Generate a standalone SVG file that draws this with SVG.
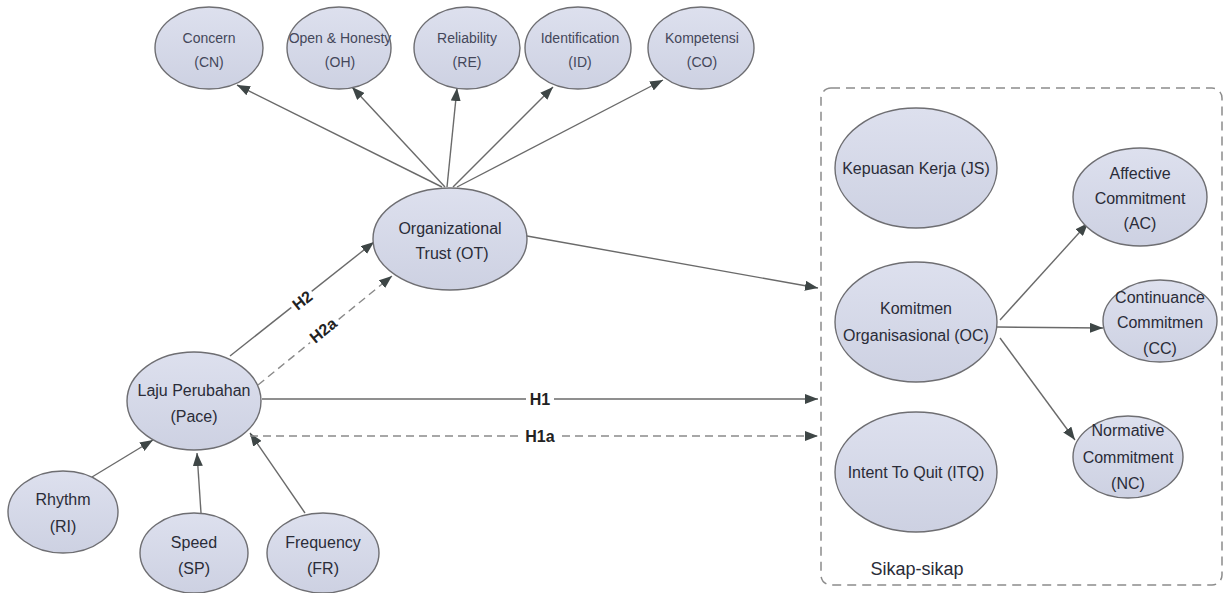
<svg xmlns="http://www.w3.org/2000/svg" width="1224" height="593" viewBox="0 0 1224 593">
<defs>
<linearGradient id="g" x1="0" y1="0" x2="0" y2="1">
<stop offset="0" stop-color="#dde0ee"/>
<stop offset="1" stop-color="#cdd1e2"/>
</linearGradient>
<marker id="ah" markerUnits="userSpaceOnUse" markerWidth="14" markerHeight="10" refX="13" refY="5" orient="auto">
<path d="M0,0 L13,5 L0,10 z" fill="#3e4646"/>
</marker>
<style>
.n ellipse{fill:url(#g);stroke:#6e6e72;stroke-width:1.4}
text{font-family:"Liberation Sans",Arial,sans-serif;fill:#2a2c38;text-anchor:middle}
.s{font-size:14px;fill:#44475a}
.m{font-size:16px}
.c line{stroke:#6a6a6a;stroke-width:1.4;marker-end:url(#ah)}
.c .d{stroke:#8a8a8a;stroke-dasharray:8 5}
.lbl{font-size:16px;font-weight:bold;fill:#222}
</style>
</defs>
<rect width="1224" height="593" fill="#ffffff"/>
<rect id="box" x="821" y="88" width="401" height="497" rx="10" fill="none" stroke="#8c8c8c" stroke-width="1.5" stroke-dasharray="9 6"/>
<text x="917" y="575" style="font-size:18px">Sikap-sikap</text>

<g class="c" id="connectors">
<line x1="442" y1="187" x2="237" y2="85"/>
<line x1="445" y1="187" x2="352" y2="87"/>
<line x1="447" y1="187" x2="457" y2="88"/>
<line x1="453" y1="187" x2="553" y2="87"/>
<line x1="457" y1="187" x2="663" y2="80"/>
<line x1="92" y1="477" x2="153" y2="440"/>
<line x1="201" y1="513" x2="197" y2="453"/>
<line x1="305" y1="513" x2="250" y2="433"/>
<line x1="230" y1="356" x2="374" y2="242"/>
<line class="d" x1="258" y1="385" x2="392" y2="276"/>
<line x1="262" y1="399" x2="818" y2="399"/>
<line class="d" x1="250" y1="436" x2="818" y2="436"/>
<line x1="527" y1="236" x2="818" y2="288"/>
<line x1="1000" y1="320" x2="1088" y2="223"/>
<line x1="997" y1="327" x2="1103" y2="328"/>
<line x1="1000" y1="338" x2="1075" y2="440"/>
<g transform="translate(302,300) rotate(-38)"><rect x="-13" y="-9" width="26" height="18" fill="#fff"/><text class="lbl" y="6">H2</text></g>
<g transform="translate(323,330) rotate(-39)"><rect x="-18" y="-9" width="36" height="18" fill="#fff"/><text class="lbl" y="6">H2a</text></g>
<rect x="526" y="390" width="28" height="18" fill="#fff"/><text class="lbl" x="540" y="405">H1</text>
<rect x="521" y="427" width="38" height="18" fill="#fff"/><text class="lbl" x="540" y="442">H1a</text>
</g>

<g class="n" id="CN"><ellipse cx="209" cy="48" rx="54" ry="41"/><text class="s" x="209" y="43">Concern</text><text class="s" x="209" y="67">(CN)</text></g>
<g class="n" id="OH"><ellipse cx="339" cy="48" rx="52" ry="41"/><text class="s" x="340" y="43">Open &amp; Honesty</text><text class="s" x="340" y="67">(OH)</text></g>
<g class="n" id="RE"><ellipse cx="467" cy="48" rx="53" ry="41"/><text class="s" x="467" y="43">Reliability</text><text class="s" x="467" y="67">(RE)</text></g>
<g class="n" id="ID"><ellipse cx="578" cy="48" rx="53" ry="41"/><text class="s" x="580" y="43">Identification</text><text class="s" x="580" y="67">(ID)</text></g>
<g class="n" id="CO"><ellipse cx="701" cy="48" rx="53" ry="41"/><text class="s" x="702" y="43">Kompetensi</text><text class="s" x="702" y="67">(CO)</text></g>

<g class="n" id="OT"><ellipse cx="450" cy="239" rx="77" ry="51"/><text class="m" x="450" y="234">Organizational</text><text class="m" x="452" y="259">Trust (OT)</text></g>
<g class="n" id="Pace"><ellipse cx="194" cy="401" rx="67" ry="49"/><text class="m" x="194" y="396">Laju Perubahan</text><text class="m" x="194" y="422">(Pace)</text></g>
<g class="n" id="RI"><ellipse cx="63" cy="512" rx="55" ry="41"/><text class="m" x="63" y="505">Rhythm</text><text class="m" x="63" y="532">(RI)</text></g>
<g class="n" id="SP"><ellipse cx="194" cy="553" rx="54" ry="40"/><text class="m" x="194" y="548">Speed</text><text class="m" x="194" y="574">(SP)</text></g>
<g class="n" id="FR"><ellipse cx="323" cy="553" rx="56" ry="40"/><text class="m" x="323" y="548">Frequency</text><text class="m" x="323" y="574">(FR)</text></g>

<g class="n" id="JS"><ellipse cx="916" cy="168" rx="81" ry="60"/><text class="m" x="916" y="174">Kepuasan Kerja (JS)</text></g>
<g class="n" id="OC"><ellipse cx="916" cy="322" rx="81" ry="60"/><text class="m" x="916" y="314">Komitmen</text><text class="m" x="916" y="341">Organisasional (OC)</text></g>
<g class="n" id="ITQ"><ellipse cx="916" cy="472" rx="81" ry="60"/><text class="m" x="916" y="478">Intent To Quit (ITQ)</text></g>
<g class="n" id="AC"><ellipse cx="1140" cy="197" rx="67" ry="49"/><text class="m" x="1140" y="179">Affective</text><text class="m" x="1140" y="204">Commitment</text><text class="m" x="1140" y="229">(AC)</text></g>
<g class="n" id="CC"><ellipse cx="1160" cy="321" rx="57" ry="41"/><text class="m" x="1160" y="303">Continuance</text><text class="m" x="1160" y="328">Commitmen</text><text class="m" x="1160" y="354">(CC)</text></g>
<g class="n" id="NC"><ellipse cx="1128" cy="457" rx="55" ry="41"/><text class="m" x="1128" y="436">Normative</text><text class="m" x="1128" y="463">Commitment</text><text class="m" x="1128" y="489">(NC)</text></g>
</svg>
